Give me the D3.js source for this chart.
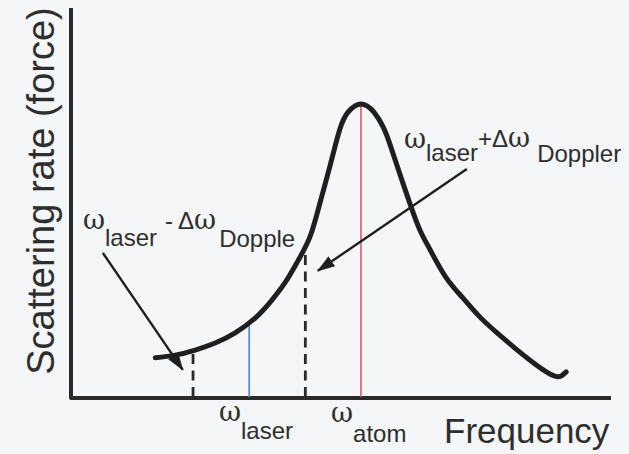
<!DOCTYPE html>
<html>
<head>
<meta charset="utf-8">
<script src="https://cdn.jsdelivr.net/npm/d3@7"></script>
<style>
  html, body { margin: 0; padding: 0; background: #f5f6f8; }
  svg { display: block; }
</style>
</head>
<body>
<svg id="chart" width="629" height="454"></svg>
<script>
// Scattering-rate resonance curve (arbitrary units), frequency vs. rate
const curveFreq = [1.56, 1.93, 2.30, 2.67, 3.04, 3.41, 3.69, 3.96, 4.20, 4.43, 4.61, 4.80, 4.98, 5.13, 5.26, 5.37,
                   5.48, 5.61, 5.78, 5.91, 6.04, 6.28, 6.46, 6.65, 6.94, 7.26, 7.57, 7.89, 8.22, 8.50, 8.78, 8.96, 9.07, 9.17];
const curveRate = [1.03, 1.10, 1.23, 1.41, 1.67, 2.05, 2.46, 2.95, 3.51, 4.15, 5.00, 5.97, 6.90, 7.33, 7.49, 7.54,
                   7.49, 7.33, 6.95, 6.49, 5.95, 4.97, 4.31, 3.80, 3.10, 2.56, 2.08, 1.67, 1.28, 0.97, 0.69, 0.56, 0.56, 0.67];

// Vertical markers: frequency position and height where each meets the curve
const markerNames = ["laserMinus", "laser", "laserPlus", "atom"];
const markerFreq  = [2.26, 3.30, 4.34, 5.37];
const markerTop   = [1.15, 1.95, 3.92, 7.51];
const markerKind  = ["dashed", "blue", "dashed", "red"];

// Annotation arrows (start -> tip) in data units
const arrowFrom = [[0.59, 3.72], [7.33, 5.87]];
const arrowTo   = [[2.07, 0.72], [4.57, 3.26]];

// Axis titles
const xTitle = "Frequency";
const yTitle = "Scattering rate (force)";

const svg = d3.select("#chart");

const x = d3.scaleLinear().domain([0, 10]).range([71, 611]);
const y = d3.scaleLinear().domain([0, 10]).range([398, 8]);

const ink = "#2e2e2e";
const sans = "'Liberation Sans', Arial, Helvetica, sans-serif";
const greek = "'DejaVu Serif', 'Liberation Serif', serif";

// axes as one open frame with a rounded corner
const axisPath = d3.path();
axisPath.moveTo(x(0), y(10));
axisPath.lineTo(x(0), y(0));
axisPath.lineTo(x(10), y(0));
svg.append("path")
  .attr("d", axisPath.toString())
  .attr("fill", "none")
  .attr("stroke", "#2b2b2b")
  .attr("stroke-width", 4)
  .attr("stroke-linejoin", "round");

// vertical marker lines
const markerStyle = {
  dashed: { stroke: "#2a2a2a", width: 2.8, dash: "10,6.5" },
  blue:   { stroke: "#5b8bdc", width: 1.8, dash: null },
  red:    { stroke: "#e2566a", width: 1.6, dash: null }
};
svg.append("g").selectAll("line")
  .data(markerNames.map((n, i) => ({ n, f: markerFreq[i], t: markerTop[i], k: markerKind[i] })))
  .join("line")
  .attr("x1", d => x(d.f)).attr("x2", d => x(d.f))
  .attr("y1", d => y(0) - 1).attr("y2", d => y(d.t))
  .attr("stroke", d => markerStyle[d.k].stroke)
  .attr("stroke-width", d => markerStyle[d.k].width)
  .attr("stroke-dasharray", d => markerStyle[d.k].dash);

// resonance curve
const pts = curveFreq.map((f, i) => [f, curveRate[i]]);
const line = d3.line().x(d => x(d[0])).y(d => y(d[1])).curve(d3.curveNatural);
svg.append("path")
  .datum(pts)
  .attr("d", line)
  .attr("fill", "none")
  .attr("stroke", "#1f1f1f")
  .attr("stroke-width", 5)
  .attr("stroke-linecap", "round")
  .attr("stroke-linejoin", "round");

// arrows
svg.append("defs").append("marker")
  .attr("id", "head")
  .attr("viewBox", "0 0 18 12")
  .attr("refX", 17).attr("refY", 6)
  .attr("markerWidth", 18).attr("markerHeight", 12)
  .attr("markerUnits", "userSpaceOnUse")
  .attr("orient", "auto")
  .append("path")
  .attr("d", "M0,0 L18,6 L0,12 Z")
  .attr("fill", "#1f1f1f");

svg.append("g").selectAll("line")
  .data(arrowFrom.map((a, i) => [a, arrowTo[i]]))
  .join("line")
  .attr("x1", d => x(d[0][0])).attr("y1", d => y(d[0][1]))
  .attr("x2", d => x(d[1][0])).attr("y2", d => y(d[1][1]))
  .attr("stroke", "#1f1f1f")
  .attr("stroke-width", 2.4)
  .attr("marker-end", "url(#head)");

// labels built from runs of omega / subscript text
function label(x0, y0, runs) {
  const t = svg.append("text").attr("x", x0).attr("y", y0).attr("fill", ink);
  runs.forEach(r => {
    t.append("tspan")
      .attr("font-family", r.greek ? greek : sans)
      .attr("font-size", r.size)
      .attr("dx", r.dx || 0)
      .attr("dy", r.dy || 0)
      .text(r.t);
  });
  return t;
}

label(83, 229, [
  { t: "ω", greek: true, size: 27 },
  { t: "laser", size: 24, dy: 17, dx: 0 },
  { t: "-", size: 24, dy: -17, dx: 8 },
  { t: "Δ", size: 24, dx: 5 },
  { t: "ω", greek: true, size: 27 },
  { t: "Dopple", size: 24, dy: 18, dx: 3 }
]);

label(404, 148, [
  { t: "ω", greek: true, size: 27 },
  { t: "laser", size: 24, dy: 13, dx: 0 },
  { t: "+", size: 24, dy: -14 },
  { t: "Δ", size: 24 },
  { t: "ω", greek: true, size: 27 },
  { t: "Doppler", size: 24, dy: 15, dx: 7 }
]);

label(219, 421, [
  { t: "ω", greek: true, size: 27 },
  { t: "laser", size: 24, dy: 18, dx: 0 }
]);

label(331, 422, [
  { t: "ω", greek: true, size: 27 },
  { t: "atom", size: 24, dy: 20, dx: 0 }
]);

svg.append("text")
  .attr("x", 444).attr("y", 443)
  .attr("font-family", sans).attr("font-size", 35)
  .attr("fill", ink)
  .text(xTitle);

svg.append("text")
  .attr("transform", "translate(54,191) rotate(-90)")
  .attr("text-anchor", "middle")
  .attr("font-family", sans).attr("font-size", 38)
  .attr("fill", ink)
  .text(yTitle);
</script>
</body>
</html>
